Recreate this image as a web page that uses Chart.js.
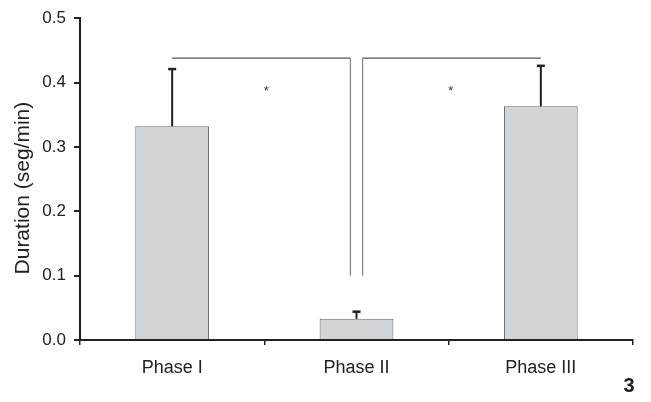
<!DOCTYPE html>
<html>
<head>
<meta charset="utf-8">
<script src="https://cdn.jsdelivr.net/npm/chart.js@4/dist/chart.umd.min.js"></script>
<style>
  html, body { margin: 0; padding: 0; background: #fff; }
  #wrap { position: relative; width: 651px; height: 402px; }
</style>
</head>
<body>
<div id="wrap"><canvas id="c" width="651" height="402"></canvas></div>
<script>
const categories = ["Phase I", "Phase II", "Phase III"];
const means = [0.332, 0.033, 0.363];
const errorTops = [0.421, 0.044, 0.426];
const yTicks = [0.0, 0.1, 0.2, 0.3, 0.4, 0.5];
const yTitle = "Duration (seg/min)";
// significance brackets: [from category, to category, top value, bottom value, side]
const brackets = [[0, 1, 0.438, 0.1, -1], [2, 1, 0.438, 0.1, 1]];
const stars = [[0.5, 0.385], [1.5, 0.385]];
const panelLabel = "3";
const FONT = 'Arial, "Liberation Sans", sans-serif';

const overlay = {
  id: 'overlay',
  afterDatasetsDraw(chart) {
    const ctx = chart.ctx, x = chart.scales.x, y = chart.scales.y;
    ctx.save();
    // error bars
    ctx.strokeStyle = '#222'; ctx.lineWidth = 2;
    means.forEach((m, i) => {
      const px = x.getPixelForValue(i);
      const y0 = y.getPixelForValue(m), y1 = y.getPixelForValue(errorTops[i]);
      ctx.beginPath();
      ctx.moveTo(px, y0); ctx.lineTo(px, y1);
      ctx.stroke();
      ctx.lineWidth = 2.5;
      ctx.beginPath();
      ctx.moveTo(px - 4, y1); ctx.lineTo(px + 4, y1);
      ctx.stroke();
      ctx.lineWidth = 2;
    });
    // brackets
    ctx.lineWidth = 1.3;
    const gap = (x.getPixelForValue(1) - x.getPixelForValue(0)) * 0.033;
    brackets.forEach(([a, b, top, bot, side]) => {
      const xa = x.getPixelForValue(a);
      const xb = x.getPixelForValue(b) + side * gap;
      const yt = y.getPixelForValue(top), yb = y.getPixelForValue(bot);
      ctx.strokeStyle = '#555';
      ctx.beginPath();
      ctx.moveTo(xa, yt); ctx.lineTo(xb, yt);
      ctx.stroke();
      ctx.strokeStyle = '#888';
      ctx.beginPath();
      ctx.moveTo(xb, yt); ctx.lineTo(xb, yb);
      ctx.stroke();
    });
    // stars
    ctx.fillStyle = '#333';
    ctx.font = '13px ' + FONT;
    ctx.textAlign = 'center'; ctx.textBaseline = 'middle';
    stars.forEach(([cx, cy]) => {
      ctx.fillText('*', x.getPixelForValue(cx) + 2, y.getPixelForValue(cy) - 1);
    });
    // y title
    ctx.fillStyle = '#222';
    ctx.font = '21px ' + FONT;
    ctx.save();
    ctx.translate(23, (chart.chartArea.top + chart.chartArea.bottom) / 2 + 9);
    ctx.rotate(-Math.PI / 2);
    ctx.fillText(yTitle, 0, 0);
    ctx.restore();
    // panel label
    ctx.fillStyle = '#222';
    ctx.font = 'bold 20px ' + FONT;
    ctx.fillText(panelLabel, 629, 386);
    ctx.restore();
  }
};

new Chart(document.getElementById('c'), {
  type: 'bar',
  data: {
    labels: categories,
    datasets: [{
      data: means,
      backgroundColor: '#d3d4d6',
      borderColor: '#6a6a6a',
      borderWidth: 1,
      borderSkipped: 'bottom',
      barPercentage: 0.4,
      categoryPercentage: 1.0
    }]
  },
  options: {
    responsive: false,
    animation: false,
    layout: { padding: { top: 17, right: 18, left: 0, bottom: 0 } },
    plugins: { legend: { display: false }, tooltip: { enabled: false } },
    scales: {
      x: {
        offset: true,
        grid: { offset: true, drawOnChartArea: false, drawTicks: true, tickLength: 5, color: '#222', lineWidth: 1.5 },
        border: { display: true, color: '#222', width: 2 },
        ticks: { color: '#222', font: { family: FONT, size: 18 }, padding: 12 },
        afterFit(s) { s.height = 62; }
      },
      y: {
        min: 0, max: 0.5,
        afterBuildTicks(s) { s.ticks = yTicks.map(v => ({ value: v })); },
        grid: { drawOnChartArea: false, drawTicks: true, tickLength: 6, color: '#222', lineWidth: 2 },
        border: { display: true, color: '#222', width: 2 },
        ticks: { color: '#222', font: { family: FONT, size: 17 }, padding: 8,
                 callback: v => Number(v).toFixed(1) },
        afterFit(s) { s.width = 80; }
      }
    }
  },
  plugins: [overlay]
});
</script>
</body>
</html>
